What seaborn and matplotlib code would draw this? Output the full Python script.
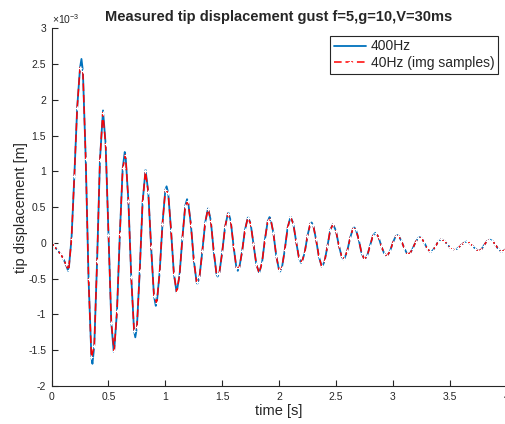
import numpy as np
import matplotlib
matplotlib.use('Agg')
import matplotlib.pyplot as plt
import seaborn as sns
from matplotlib.ticker import FormatStrFormatter, MultipleLocator

# 40 Hz image samples, t = 0 : 0.025 : 4 s, tip displacement in 1e-3 m
t_40 = np.linspace(0, 4, 161)
disp_40 = [
    0.00, -0.05, -0.10, -0.15, -0.21, -0.30, -0.38, 0.06, 0.94, 1.89,
    2.45, 2.40, 1.17, -0.51, -1.60, -1.44, -0.25, 1.16, 1.82, 1.38,
    0.11, -1.12, -1.51, -0.95, 0.12, 1.04, 1.23, 0.59, -0.47, -1.23,
    -1.18, -0.39, 0.57, 1.00, 0.71, -0.06, -0.74, -0.84, -0.41, 0.27,
    0.74, 0.70, 0.18, -0.43, -0.69, -0.45, 0.07, 0.52, 0.58, 0.25,
    -0.24, -0.55, -0.48, -0.12, 0.28, 0.48, 0.31, -0.11, -0.44, -0.42,
    -0.13, 0.22, 0.41, 0.31, -0.05, -0.35, -0.35, -0.12, 0.18, 0.35,
    0.27, -0.01, -0.30, -0.42, -0.28, 0.04, 0.30, 0.34, 0.14, -0.18,
    -0.38, -0.35, -0.10, 0.21, 0.36, 0.27, 0.02, -0.21, -0.27, -0.14,
    0.10, 0.27, 0.25, 0.05, -0.19, -0.33, -0.26, -0.05, 0.18, 0.26,
    0.17, -0.03, -0.19, -0.22, -0.11, 0.07, 0.20, 0.19, 0.05, -0.14,
    -0.23, -0.18, -0.04, 0.10, 0.14, 0.08, -0.05, -0.15, -0.18, -0.12,
    0.00, 0.09, 0.10, 0.03, -0.07, -0.15, -0.15, -0.08, 0.01, 0.07,
    0.07, 0.01, -0.07, -0.12, -0.11, -0.05, 0.02, 0.05, 0.03, -0.01,
    -0.06, -0.09, -0.10, -0.07, -0.03, 0.00, 0.02, 0.00, -0.04, -0.08,
    -0.11, -0.10, -0.04, 0.02, 0.04, 0.03, -0.02, -0.08, -0.12, -0.11,
    -0.08,
]

# extremes of the 400 Hz trace that fall between the 40 Hz samples
peak_t = [0.145, 0.2625, 0.359, 0.452, 0.546, 0.643, 0.736, 0.826, 0.916,
          1.011, 1.099, 1.191, 1.282, 1.377, 1.460, 1.555, 1.637, 1.730,
          1.824, 1.916, 2.009, 2.103, 2.194, 2.286, 2.379, 2.473, 2.567,
          2.661, 2.753, 2.846, 2.945, 3.040, 3.137, 3.236, 3.333, 3.426,
          3.542, 3.650, 3.756, 3.853, 3.962]
peak_v = [-0.39, 2.57, -1.69, 1.85, -1.52, 1.27, -1.32, 1.02, -0.88,
          0.79, -0.69, 0.61, -0.57, 0.48, -0.47, 0.42, -0.39, 0.355,
          -0.42, 0.36, -0.40, 0.36, -0.28, 0.285, -0.33, 0.26, -0.23,
          0.215, -0.23, 0.14, -0.185, 0.11, -0.155, 0.08, -0.125, 0.05,
          -0.10, 0.02, -0.11, 0.045, -0.12]

t_400 = np.concatenate([t_40, peak_t])
disp_400 = np.concatenate([disp_40, peak_v])
order = np.argsort(t_400)
t_400 = t_400[order]
disp_400 = disp_400[order]

sns.set_theme(style='ticks')
plt.rcParams['font.family'] = ['Liberation Sans', 'DejaVu Sans']
plt.rcParams['mathtext.fontset'] = 'custom'
plt.rcParams['mathtext.rm'] = 'Liberation Sans'
plt.rcParams['mathtext.it'] = 'Liberation Sans:italic'

dark = '0.15'
fig = plt.figure(figsize=(5.06, 4.24), dpi=100)
ax = fig.add_axes([0.102, 0.0896, 0.899, 0.844])

sns.lineplot(x=t_400, y=disp_400, ax=ax, color='#0072BD', linewidth=1.3,
             estimator=None, sort=False, label='400Hz')
sns.lineplot(x=t_40, y=disp_40, ax=ax, color='red', linewidth=1.1,
             linestyle='--', marker='+', markersize=3, markeredgewidth=0.8,
             estimator=None, label='40Hz (img samples)')
ax.lines[-1].set_dashes((5, 2.5))

ax.set_xlim(0, 4)
ax.set_ylim(-2, 3)
ax.xaxis.set_major_locator(MultipleLocator(0.5))
ax.yaxis.set_major_locator(MultipleLocator(0.5))
ax.xaxis.set_major_formatter(FormatStrFormatter('%g'))
ax.yaxis.set_major_formatter(FormatStrFormatter('%g'))
ax.tick_params(direction='in', length=4, width=0.8, colors=dark,
               labelsize=7.5, pad=4)
sns.despine(ax=ax)
for s in ['left', 'bottom']:
    ax.spines[s].set_color(dark)
    ax.spines[s].set_linewidth(0.8)

ax.set_title('Measured tip displacement gust f=5,g=10,V=30ms',
             fontsize=10.5, fontweight='bold', pad=5.5)
ax.set_xlabel('time [s]', fontsize=10.5, color=dark)
ax.set_ylabel('tip displacement [m]', fontsize=10.5, color=dark)
ax.xaxis.set_label_coords(0.5, -0.05)
ax.yaxis.set_label_coords(-0.052, 0.5)
ax.text(0.0, 1.006, r'$\times10^{-3}$', transform=ax.transAxes,
        ha='left', va='bottom', fontsize=7.5, color=dark)

leg = ax.legend(loc='upper right', bbox_to_anchor=(0.981, 0.978),
                fontsize=10, frameon=True, fancybox=False, framealpha=1,
                edgecolor=dark, borderaxespad=0, handlelength=2.3,
                handletextpad=0.35, labelspacing=0.2, borderpad=0.25)
leg.get_frame().set_linewidth(0.8)

fig.savefig('out.png', dpi=100)
